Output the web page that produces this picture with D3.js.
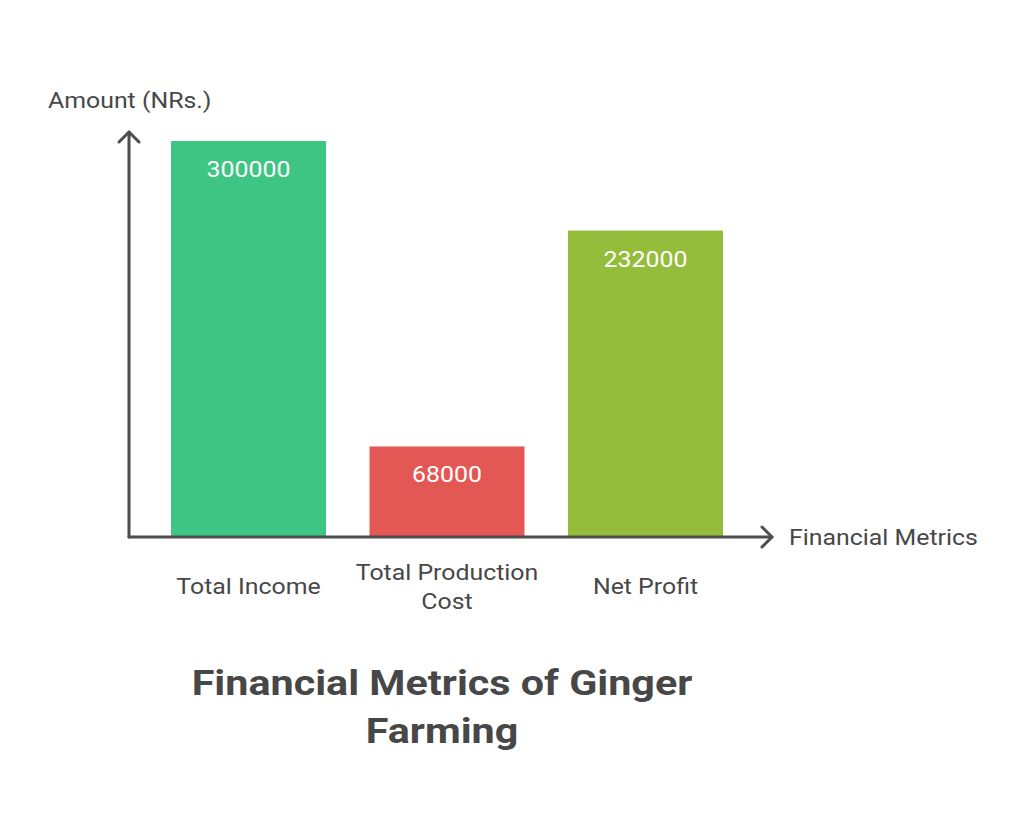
<!DOCTYPE html>
<html>
<head>
<meta charset="utf-8">
<script src="https://cdn.jsdelivr.net/npm/d3@7"></script>
<style>
  html, body { margin: 0; padding: 0; background: #fff; }
  svg { display: block; font-family: Roboto, "Noto Sans", sans-serif; }
</style>
</head>
<body>
<svg id="chart" width="1024" height="835"></svg>
<script>
const categories = ["Total Income", "Total Production Cost", "Net Profit"];
const categoryLines = [["Total Income"], ["Total Production", "Cost"], ["Net Profit"]];
const values = [300000, 68000, 232000];
const colors = ["#3EC584", "#E35855", "#93BD3B"];
const titleLines = ["Financial Metrics of Ginger", "Farming"];
const yLabel = "Amount (NRs.)";
const xLabel = "Financial Metrics";

const svg = d3.select("#chart");
const textColor = "#474747";
const axisColor = "#4d4d4d";
const sx = 1.13;      // horizontal stretch of body text
const sxTitle = 1.18; // horizontal stretch of title

function addText(g, tx, ty, str, opts) {
  const t = g.append("text")
    .attr("transform", `translate(${tx},${ty}) scale(${opts.sx || sx},1)`)
    .attr("x", 0).attr("y", 0)
    .attr("text-anchor", opts.anchor || "start")
    .attr("fill", opts.fill || textColor)
    .attr("font-size", opts.size || 22)
    .text(str);
  if (opts.weight) t.attr("font-weight", opts.weight);
  return t;
}

const x = d3.scaleBand()
  .domain(categories)
  .range([149.25, 744.75])
  .paddingInner(0.219)
  .paddingOuter(0.1096);

const y = d3.scaleLinear()
  .domain([0, 300000])
  .range([536, 141]);

// bars
svg.append("g").selectAll("rect")
  .data(values)
  .join("rect")
  .attr("x", (d, i) => x(categories[i]))
  .attr("y", d => y(d))
  .attr("width", x.bandwidth())
  .attr("height", d => y(0) - y(d))
  .attr("fill", (d, i) => colors[i]);

// value labels
const valG = svg.append("g");
values.forEach((d, i) => {
  addText(valG, x(categories[i]) + x.bandwidth() / 2, y(d) + 36, String(d),
    { anchor: "middle", fill: "#fff" });
});

// axes
const axes = svg.append("g")
  .attr("stroke", axisColor)
  .attr("stroke-width", 3)
  .attr("fill", "none")
  .attr("stroke-linecap", "round")
  .attr("stroke-linejoin", "round");
axes.append("line").attr("x1", 129).attr("y1", 537).attr("x2", 129).attr("y2", 132);
axes.append("polyline").attr("points", "119,142 129,132 139,142");
axes.append("line").attr("x1", 129).attr("y1", 537).attr("x2", 772).attr("y2", 537);
axes.append("polyline").attr("points", "762,527 772,537 762,547");

// category labels
const catG = svg.append("g");
categoryLines.forEach((lines, i) => {
  const cx = x(categories[i]) + x.bandwidth() / 2;
  const startY = lines.length === 1 ? 594 : 580;
  lines.forEach((ln, j) => {
    addText(catG, cx, startY + j * 29, ln, { anchor: "middle" });
  });
});

// axis titles
addText(svg, 48, 108, yLabel, {});
addText(svg, 789, 545, xLabel, {});

// title
titleLines.forEach((ln, i) => {
  addText(svg, 442, 695 + i * 48, ln,
    { anchor: "middle", size: 35, weight: "bold", sx: sxTitle });
});
</script>
</body>
</html>
